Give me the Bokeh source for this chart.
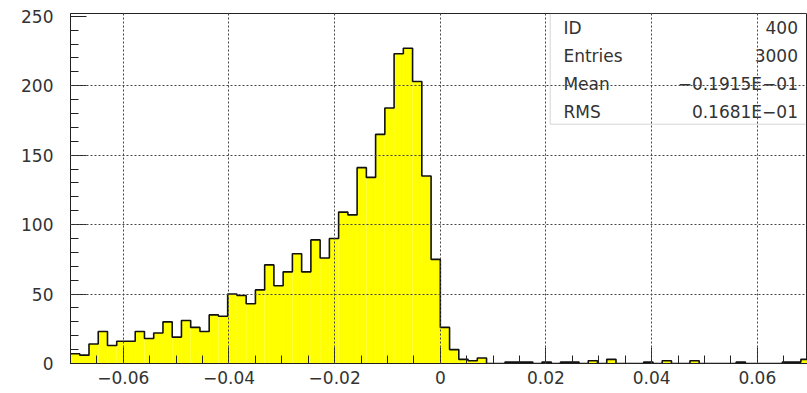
import numpy as np
from bokeh.plotting import figure
from bokeh.models import FixedTicker, BoxAnnotation, Label, Range1d
from bokeh.embed import file_html
from bokeh.resources import INLINE

# ---- data ----
x_min, x_max = -0.07, 0.07
n_bins = 80
counts = [7, 6, 14, 23, 13, 16, 16, 23, 18, 22,
          30, 19, 31, 26, 23, 35, 34, 50, 49, 43,
          53, 71, 56, 66, 79, 66, 89, 76, 90, 109,
          107, 141, 134, 165, 184, 223, 227, 203, 135, 75,
          26, 10, 3, 2, 4, 0, 0, 1, 1, 1,
          0, 1, 0, 1, 1, 0, 2, 0, 3, 0,
          0, 0, 1, 0, 2, 0, 0, 2, 0, 0,
          0, 0, 1, 0, 0, 0, 0, 1, 1, 3]
x_tick_values = [-0.06, -0.04, -0.02, 0.0, 0.02, 0.04, 0.06]
x_tick_labels = ["\u22120.06", "\u22120.04", "\u22120.02", "0", "0.02", "0.04", "0.06"]
y_tick_values = [0, 50, 100, 150, 200, 250]
stat_names = ["ID", "Entries", "Mean", "RMS"]
stat_values = ["400", "3000", "\u22120.1915E\u221201", "0.1681E\u221201"]

FONT = "DejaVu Sans"
TXT = "#333333"

edges = np.linspace(x_min, x_max, n_bins + 1)
lefts = edges[:-1]
rights = edges[1:]
counts_arr = np.array(counts, dtype=float)

p = figure(width=807, height=393, output_backend="svg", toolbar_location=None,
           x_range=Range1d(-0.07, 0.0695), y_range=Range1d(0, 252))
p.min_border_left = 70
p.min_border_right = 0
p.min_border_top = 13
p.min_border_bottom = 30
p.background_fill_color = "white"
p.border_fill_color = "white"
p.outline_line_color = "#222222"
p.outline_line_width = 1

# histogram fill
p.quad(left=lefts, right=rights, bottom=0, top=counts_arr,
       fill_color="#ffff00", line_color=None)
# histogram outline (step)
sx = np.empty(2 * n_bins)
sy = np.empty(2 * n_bins)
sx[0::2] = lefts
sx[1::2] = rights
sy[0::2] = counts_arr
sy[1::2] = counts_arr
p.line(sx, sy, line_color="#111111", line_width=1.6)

# axes
p.xaxis.ticker = FixedTicker(ticks=x_tick_values,
                             minor_ticks=list(np.round(np.arange(-0.07, 0.0701, 0.005), 4)))
p.xaxis.major_label_overrides = {v: lab for v, lab in zip(x_tick_values, x_tick_labels)}
p.yaxis.ticker = FixedTicker(ticks=y_tick_values, minor_ticks=list(range(0, 260, 10)))
for ax in (p.xaxis[0], p.yaxis[0]):
    ax.major_tick_in = 16
    ax.major_tick_out = 0
    ax.minor_tick_in = 8
    ax.minor_tick_out = 0
    ax.axis_line_color = "#222222"
    ax.major_tick_line_color = "#222222"
    ax.minor_tick_line_color = "#222222"
    ax.major_label_text_font = FONT
    ax.major_label_text_font_size = "17px"
    ax.major_label_text_color = TXT
p.xaxis.major_label_standoff = 7
p.yaxis.major_label_standoff = 17

# grid (drawn over the bars)
p.xgrid.ticker = FixedTicker(ticks=x_tick_values)
p.ygrid.ticker = FixedTicker(ticks=[50, 100, 150, 200])
for g in (p.xgrid[0], p.ygrid[0]):
    g.grid_line_color = "#444444"
    g.grid_line_dash = "2 2"
    g.grid_line_width = 1
    g.level = "overlay"

# stats box
p.add_layout(BoxAnnotation(left=0.0208, bottom=172.3, fill_alpha=0,
                           line_color="#777777", line_width=1, level="overlay"))
row_y = [241.7, 221.5, 201.3, 181.2]
for name, val, yy in zip(stat_names, stat_values, row_y):
    p.add_layout(Label(x=0.0233, y=yy, text=name, text_baseline="middle",
                       text_align="left", text_font=FONT, text_font_size="17px",
                       text_color=TXT))
    p.add_layout(Label(x=0.0677, y=yy, text=val, text_baseline="middle",
                       text_align="right", text_font=FONT, text_font_size="17px",
                       text_color=TXT))

open("out.html", "w").write(file_html(p, INLINE))
